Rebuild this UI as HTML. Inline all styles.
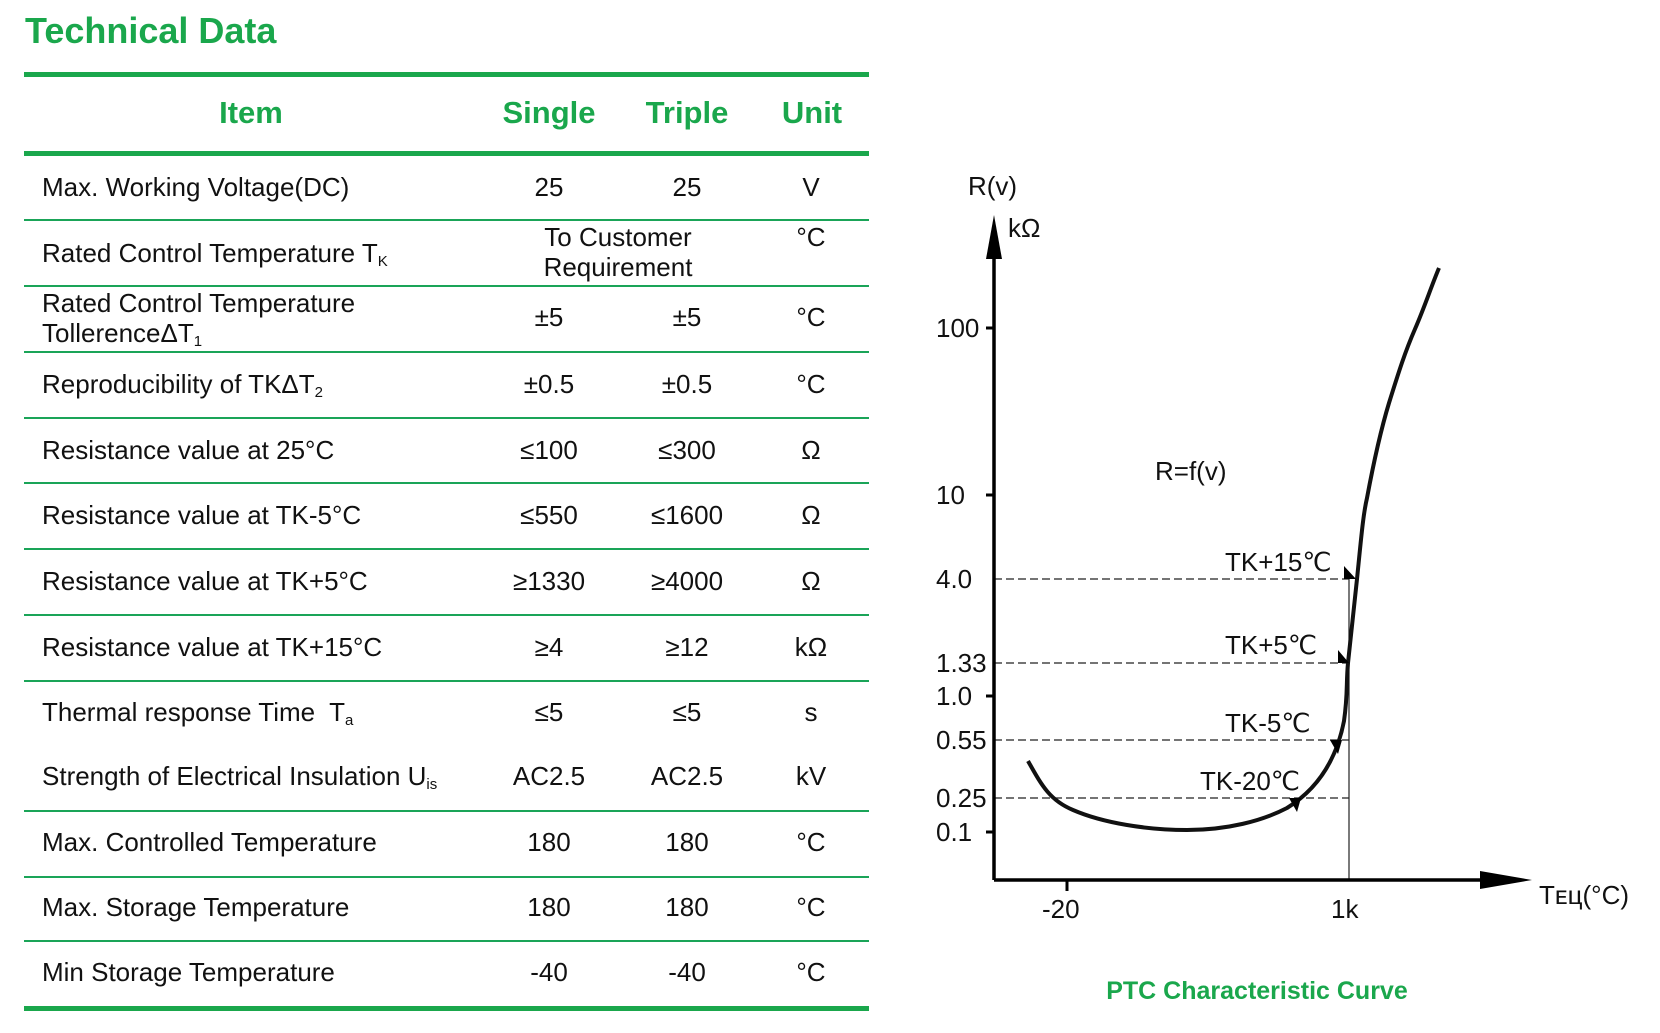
<!DOCTYPE html>
<html><head><meta charset="utf-8"><style>
html,body{margin:0;padding:0;background:#fff;}
body{width:1660px;height:1033px;position:relative;overflow:hidden;font-family:"Liberation Sans",Arial,sans-serif;color:#111;}
.t{position:absolute;white-space:nowrap;font-size:26px;line-height:1;}
.c{transform:translateX(-50%);}
.g{color:#1aa74c;font-weight:bold;}
.ln{position:absolute;left:24px;width:845px;background:#1aa458;height:2px;}
.th{height:5px;background:#1aa74c;}
sub{font-size:15px;vertical-align:-4px;line-height:0;}
</style></head><body>
<div class="t g" style="left:25px;top:13px;font-size:36px;">Technical Data</div>
<div class="ln th" style="top:72px"></div>
<div class="ln th" style="top:151px"></div>
<div class="t g c" style="left:251px;top:97px;font-size:31px;">Item</div>
<div class="t g c" style="left:549px;top:97px;font-size:31px;">Single</div>
<div class="t g c" style="left:687px;top:97px;font-size:31px;">Triple</div>
<div class="t g c" style="left:812px;top:97px;font-size:31px;">Unit</div>

<div class="ln" style="top:219px"></div>
<div class="ln" style="top:285px"></div>
<div class="ln" style="top:351px"></div>
<div class="ln" style="top:417px"></div>
<div class="ln" style="top:482px"></div>
<div class="ln" style="top:548px"></div>
<div class="ln" style="top:614px"></div>
<div class="ln" style="top:680px"></div>
<div class="ln" style="top:810px"></div>
<div class="ln" style="top:876px"></div>
<div class="ln" style="top:940px"></div>
<div class="ln th" style="top:1006px"></div>

<div class="t" style="left:42px;top:174px">Max. Working Voltage(DC)</div>
<div class="t c" style="left:549px;top:174px">25</div><div class="t c" style="left:687px;top:174px">25</div><div class="t c" style="left:811px;top:174px">V</div>

<div class="t" style="left:42px;top:240px">Rated Control Temperature T<sub>K</sub></div>
<div class="t c" style="left:618px;top:224px">To Customer</div><div class="t c" style="left:618px;top:254px">Requirement</div><div class="t c" style="left:811px;top:224px">°C</div>

<div class="t" style="left:42px;top:290px">Rated Control Temperature</div>
<div class="t" style="left:42px;top:320px">TollerenceΔT<sub>1</sub></div>
<div class="t c" style="left:549px;top:304px">±5</div><div class="t c" style="left:687px;top:304px">±5</div><div class="t c" style="left:811px;top:304px">°C</div>

<div class="t" style="left:42px;top:371px">Reproducibility of TKΔT<sub>2</sub></div>
<div class="t c" style="left:549px;top:371px">±0.5</div><div class="t c" style="left:687px;top:371px">±0.5</div><div class="t c" style="left:811px;top:371px">°C</div>

<div class="t" style="left:42px;top:437px">Resistance value at 25°C</div>
<div class="t c" style="left:549px;top:437px">≤100</div><div class="t c" style="left:687px;top:437px">≤300</div><div class="t c" style="left:811px;top:437px">Ω</div>

<div class="t" style="left:42px;top:502px">Resistance value at TK-5°C</div>
<div class="t c" style="left:549px;top:502px">≤550</div><div class="t c" style="left:687px;top:502px">≤1600</div><div class="t c" style="left:811px;top:502px">Ω</div>

<div class="t" style="left:42px;top:568px">Resistance value at TK+5°C</div>
<div class="t c" style="left:549px;top:568px">≥1330</div><div class="t c" style="left:687px;top:568px">≥4000</div><div class="t c" style="left:811px;top:568px">Ω</div>

<div class="t" style="left:42px;top:634px">Resistance value at TK+15°C</div>
<div class="t c" style="left:549px;top:634px">≥4</div><div class="t c" style="left:687px;top:634px">≥12</div><div class="t c" style="left:811px;top:634px">kΩ</div>

<div class="t" style="left:42px;top:699px">Thermal response Time&nbsp; T<sub>a</sub></div>
<div class="t c" style="left:549px;top:699px">≤5</div><div class="t c" style="left:687px;top:699px">≤5</div><div class="t c" style="left:811px;top:699px">s</div>

<div class="t" style="left:42px;top:763px">Strength of Electrical Insulation U<sub>is</sub></div>
<div class="t c" style="left:549px;top:763px">AC2.5</div><div class="t c" style="left:687px;top:763px">AC2.5</div><div class="t c" style="left:811px;top:763px">kV</div>

<div class="t" style="left:42px;top:829px">Max. Controlled Temperature</div>
<div class="t c" style="left:549px;top:829px">180</div><div class="t c" style="left:687px;top:829px">180</div><div class="t c" style="left:811px;top:829px">°C</div>

<div class="t" style="left:42px;top:894px">Max. Storage Temperature</div>
<div class="t c" style="left:549px;top:894px">180</div><div class="t c" style="left:687px;top:894px">180</div><div class="t c" style="left:811px;top:894px">°C</div>

<div class="t" style="left:42px;top:959px">Min Storage Temperature</div>
<div class="t c" style="left:549px;top:959px">-40</div><div class="t c" style="left:687px;top:959px">-40</div><div class="t c" style="left:811px;top:959px">°C</div>

<svg style="position:absolute;left:0;top:0" width="1660" height="1033" font-family="Liberation Sans, Arial, sans-serif" font-size="26" fill="#111">
<g stroke="#222" stroke-width="1.3" stroke-dasharray="8,4" fill="none">
<line x1="994" y1="579" x2="1349" y2="579"/>
<line x1="994" y1="663" x2="1349" y2="663"/>
<line x1="994" y1="740" x2="1349" y2="740"/>
<line x1="994" y1="798" x2="1349" y2="798"/>
</g>
<line x1="1349" y1="579" x2="1349" y2="880" stroke="#222" stroke-width="1.2"/>
<line x1="994" y1="240" x2="994" y2="880" stroke="#000" stroke-width="3.5"/>
<polygon points="994,215 986,259 1002,259" fill="#000"/>
<line x1="994" y1="880" x2="1485" y2="880" stroke="#000" stroke-width="3.5"/>
<polygon points="1532,880 1480,871 1480,889" fill="#000"/>
<g stroke="#000" stroke-width="3">
<line x1="986" y1="328" x2="994" y2="328"/><line x1="986" y1="495" x2="994" y2="495"/>
<line x1="986" y1="696" x2="994" y2="696"/><line x1="986" y1="832" x2="994" y2="832"/>
<line x1="1067" y1="880" x2="1067" y2="891"/>
</g>
<path d="M1028,761 C1041,784 1049,800 1073,810 C1103,823 1147,830 1187,830 C1227,830 1262,821 1287,808 C1316,790 1336,762 1344,721 C1348,693 1346,683 1348,663 C1352,624 1355,599 1357,579 C1361,540 1363,515 1367,498 C1375,455 1382,426 1389,403 C1399,371 1405,352 1415,329 C1425,306 1431,287 1439,268" fill="none" stroke="#111" stroke-width="4"/>
<polygon points="1344,566 1356,579 1344,579" fill="#000"/>
<polygon points="1338,650 1349,663 1338,663" fill="#000"/>
<polygon points="1330,740 1342,740 1338,754" fill="#000"/>
<polygon points="1289,798 1301,798 1297,812" fill="#000"/>
<text x="968" y="195">R(v)</text>
<text x="1008" y="237">kΩ</text>
<text x="936" y="337">100</text>
<text x="936" y="504">10</text>
<text x="936" y="588">4.0</text>
<text x="936" y="672">1.33</text>
<text x="936" y="705">1.0</text>
<text x="936" y="749">0.55</text>
<text x="936" y="807">0.25</text>
<text x="936" y="841">0.1</text>
<text x="1042" y="918">-20</text>
<text x="1331" y="918">1k</text>
<text x="1539" y="904">Tᴇц(°C)</text>
<text x="1155" y="480">R=f(v)</text>
<text x="1225" y="571">TK+15℃</text>
<text x="1225" y="654">TK+5℃</text>
<text x="1225" y="732">TK-5℃</text>
<text x="1200" y="790">TK-20℃</text>
<text x="1257" y="999" text-anchor="middle" font-weight="bold" font-size="25" fill="#1aa74c">PTC Characteristic Curve</text>
</svg>
</body></html>
